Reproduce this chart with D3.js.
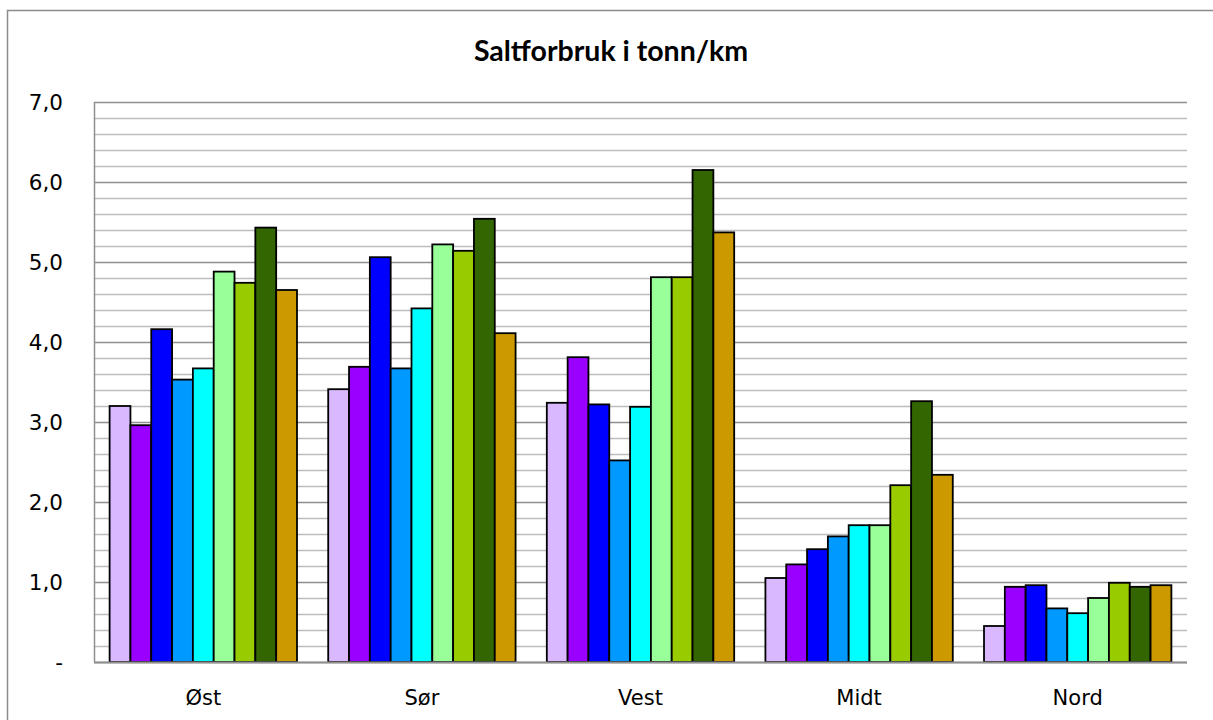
<!DOCTYPE html>
<html>
<head>
<meta charset="utf-8">
<script src="https://cdn.jsdelivr.net/npm/d3@7"></script>
<style>
  body { margin: 0; background: #fff; }
  svg { display: block; }
</style>
</head>
<body>
<div id="chart"></div>
<script>
const regions = ["Øst", "Sør", "Vest", "Midt", "Nord"];
const seriesColors = ["#D9B8FF", "#9900FF", "#0000FF", "#0099FF", "#00FFFF", "#99FF99", "#99CC00", "#336600", "#CC9900"];
// one array per series (9 series, values per region)
const s1 = [3.20, 3.41, 3.24, 1.05, 0.45];
const s2 = [2.96, 3.69, 3.81, 1.22, 0.94];
const s3 = [4.16, 5.06, 3.22, 1.41, 0.96];
const s4 = [3.53, 3.67, 2.52, 1.57, 0.67];
const s5 = [3.67, 4.42, 3.19, 1.71, 0.61];
const s6 = [4.88, 5.22, 4.81, 1.71, 0.80];
const s7 = [4.74, 5.14, 4.81, 2.21, 0.99];
const s8 = [5.43, 5.54, 6.15, 3.26, 0.94];
const s9 = [4.65, 4.11, 5.37, 2.34, 0.96];
const series = [s1, s2, s3, s4, s5, s6, s7, s8, s9];
const yTicks = [0, 1, 2, 3, 4, 5, 6, 7];

const width = 1213, height = 720;
const margin = {top: 102, right: 26, bottom: 58, left: 94};

const svg = d3.select('#chart')
    .append('svg')
        .attr('width', width)
        .attr('height', height);

// outer chart frame
svg.append('rect')
    .attr('x', 7.5)
    .attr('y', 10.5)
    .attr('width', width + 10)
    .attr('height', height + 10)
    .attr('fill', 'none')
    .attr('stroke', '#8c8c8c')
    .attr('stroke-width', 1.5);

svg.append('text')
    .attr('x', 611)
    .attr('y', 61)
    .attr('text-anchor', 'middle')
    .attr('font-family', 'Lato, sans-serif')
    .attr('font-weight', 'bold')
    .attr('font-size', 28.5)
    .text('Saltforbruk i tonn/km');

const x0 = d3.scaleBand()
    .domain(regions)
    .range([margin.left, width - margin.right])
    .paddingInner(0)
    .paddingOuter(0);

const x1 = d3.scaleBand()
    .domain(d3.range(series.length))
    .range([0, x0.bandwidth()])
    .paddingOuter(0.75)
    .paddingInner(0);

const y = d3.scaleLinear()
    .domain([0, 7])
    .range([height - margin.bottom, margin.top]);

// minor + major gridlines
const grid = svg.append('g');
grid.selectAll('line')
    .data(d3.range(0, 36).map(i => i * 0.2))
    .join('line')
        .attr('x1', margin.left)
        .attr('x2', width - margin.right)
        .attr('y1', d => Math.round(y(d)) + 0.5)
        .attr('y2', d => Math.round(y(d)) + 0.5)
        .attr('stroke', d => Math.abs(d - Math.round(d)) < 1e-6 ? '#8f8f8f' : '#bdbdbd')
        .attr('stroke-width', 1.5);

// y axis line
svg.append('line')
    .attr('x1', margin.left + 0.5)
    .attr('x2', margin.left + 0.5)
    .attr('y1', y(7))
    .attr('y2', y(0))
    .attr('stroke', '#8f8f8f')
    .attr('stroke-width', 1.5);

const bars = svg.append('g')
    .selectAll('g')
    .data(series)
    .join('g')
        .attr('fill', (d, i) => seriesColors[i]);

bars.selectAll('rect')
    .data((d, i) => d.map((v, j) => ({v, region: regions[j], s: i})))
    .join('rect')
        .attr('x', d => x0(d.region) + x1(d.s))
        .attr('y', d => y(d.v))
        .attr('width', x1.bandwidth())
        .attr('height', d => y(0) - y(d.v))
        .attr('stroke', '#000')
        .attr('stroke-width', 1.8);

// x axis baseline
svg.append('line')
    .attr('x1', margin.left)
    .attr('x2', width - margin.right)
    .attr('y1', y(0) + 0.5)
    .attr('y2', y(0) + 0.5)
    .attr('stroke', '#8f8f8f')
    .attr('stroke-width', 2);

svg.append('g')
    .selectAll('text')
    .data(yTicks)
    .join('text')
        .attr('x', 63)
        .attr('y', d => y(d) + 8)
        .attr('text-anchor', 'end')
        .attr('font-family', 'DejaVu Sans, sans-serif')
        .attr('font-size', 21.5)
        .text(d => d === 0 ? '-' : d3.format('.1f')(d).replace('.', ','));

svg.append('g')
    .selectAll('text')
    .data(regions)
    .join('text')
        .attr('x', d => x0(d) + x0.bandwidth() / 2)
        .attr('y', 705)
        .attr('text-anchor', 'middle')
        .attr('font-family', 'DejaVu Sans, sans-serif')
        .attr('font-size', 21)
        .text(d => d);
</script>
</body>
</html>
